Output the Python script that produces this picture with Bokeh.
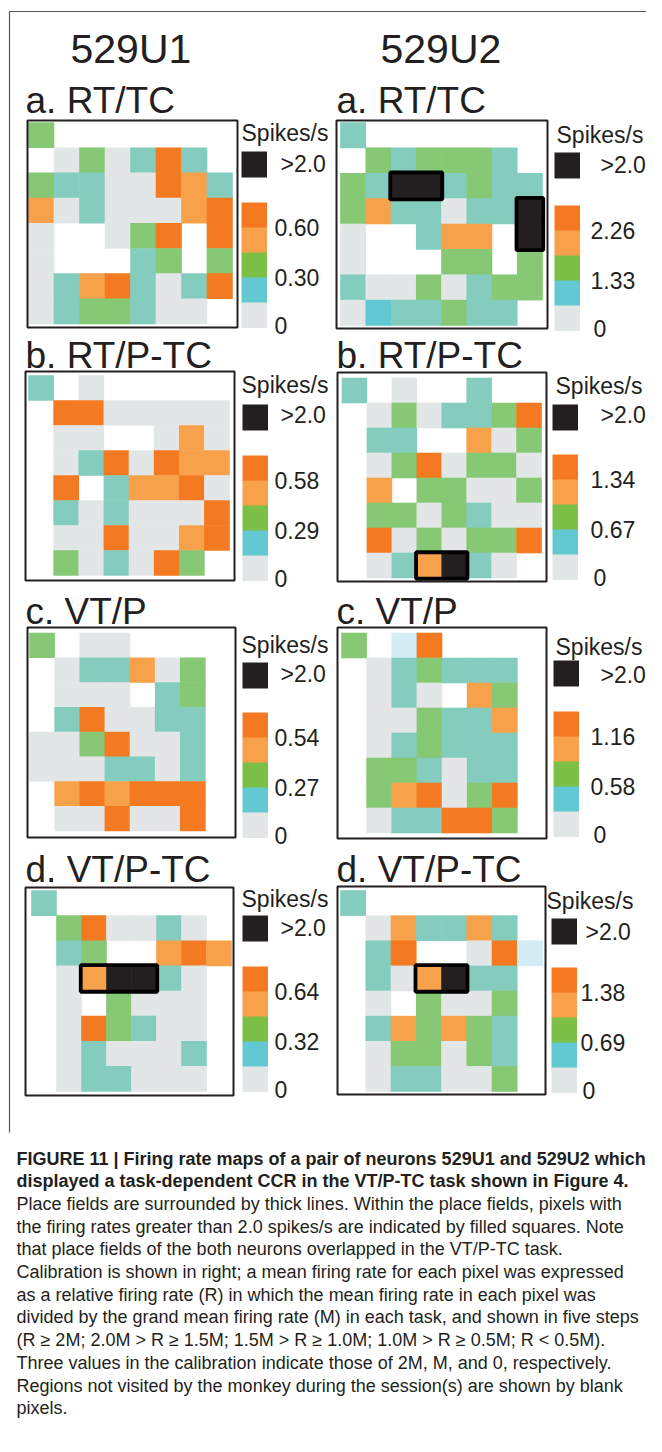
from bokeh.plotting import figure
from bokeh.models import Range1d, ColumnDataSource
from bokeh.core.properties import value
from bokeh.embed import file_html
from bokeh.resources import INLINE

# ------------------------------------------------------------------ data
neurons = ["529U1", "529U2"]
tasks = ["a. RT/TC", "b. RT/P-TC", "c. VT/P", "d. VT/P-TC"]

# pixel codes: W blank, G <0.5M, C 0.5-1.0M (light), T teal, N green, O light orange,
# R dark orange, K >2.0 spikes/s, L pale blue
u1_rt_tc = ["NWWWWWWW", "WGNGTRTW", "NTTGGROT", "OGTGGGOR",
            "GWWGNRWR", "GWWWTNWN", "GTORTGTR", "GTNNTGGW"]
u2_rt_tc = ["TWWWWWWW", "WNTNNNTW", "NTKKTNTT", "NOTTGTTK",
            "GWWTOOWK", "GWWWNNWN", "TGGNGTNN", "GCTTNTTW"]
u1_rt_ptc = ["TWGWWWWW", "WRRGGGGG", "WGGWWGOG", "WGTRGROO",
             "WRWTOORG", "WTGTGGGR", "WGGRGGOR", "WNGTGRNW"]
u2_rt_ptc = ["TWGWWTWW", "WGNGTTNR", "WTTWWOGN", "WGNRGNNG",
             "WOWNNGGN", "WNNGNTGG", "WRGNGNNR", "WGTOKTGW"]
u1_vt_p = ["NWGGWWWW", "WGTTOGNW", "WGGGWTNW", "WTRGGTTW",
           "GGNRGGTW", "GGGTTGTW", "WORORRRW", "WGGRGGRW"]
u2_vt_p = ["NWLRWWWW", "WGTNTTTW", "WGTGWONW", "WGGNTTOW",
           "WGTNTTTW", "WNNTGTTW", "WNORGNRW", "WGTTRRNW"]
u1_vt_ptc = ["TWWWWWWW", "WNRGGTGW", "WTNWWORO", "WGOKKTGW",
             "WGWNGGGW", "WGRNTGGW", "WGTGGGTW", "WGTTGGGW"]
u2_vt_ptc = ["TWWWWWWW", "WGOTTOTW", "WTRWWGRL", "WTGOKTTW",
             "WGWNGGNW", "WTONONTW", "WGNNGNTW", "WGTTGGNW"]

# place fields: (col_from, col_to, row_from, row_to)
pf_u2_rt_tc = [(2, 3, 2, 2), (7, 7, 3, 4)]
pf_u2_rt_ptc = [(3, 4, 7, 7)]
pf_u1_vt_ptc = [(2, 4, 3, 3)]
pf_u2_vt_ptc = [(3, 4, 3, 3)]

# calibration labels (2M, M, 0)
u1_ticks = [["0.60", "0.30", "0"], ["0.58", "0.29", "0"], ["0.54", "0.27", "0"], ["0.64", "0.32", "0"]]
u2_ticks = [["2.26", "1.33", "0"], ["1.34", "0.67", "0"], ["1.16", "0.58", "0"], ["1.38", "0.69", "0"]]
legend_title = "Spikes/s"
legend_top = ">2.0"

caption_bold = [
    "FIGURE 11 | Firing rate maps of a pair of neurons 529U1 and 529U2 which",
    "displayed a task-dependent CCR in the VT/P-TC task shown in Figure 4.",
]
caption_plain = [
    "Place fields are surrounded by thick lines. Within the place fields, pixels with",
    "the firing rates greater than 2.0 spikes/s are indicated by filled squares. Note",
    "that place fields of the both neurons overlapped in the VT/P-TC task.",
    "Calibration is shown in right; a mean firing rate for each pixel was expressed",
    "as a relative firing rate (R) in which the mean firing rate in each pixel was",
    "divided by the grand mean firing rate (M) in each task, and shown in five steps",
    "(R \u2265 2M; 2.0M > R \u2265 1.5M; 1.5M > R \u2265 1.0M; 1.0M > R \u2265 0.5M; R < 0.5M).",
    "Three values in the calibration indicate those of 2M, M, and 0, respectively.",
    "Regions not visited by the monkey during the session(s) are shown by blank",
    "pixels.",
]

# ------------------------------------------------------------------ styles
cell_colors = {"G": "#E3E6E7", "C": "#62C8D3", "T": "#84CDBE", "N": "#86C874",
               "O": "#F7A14A", "R": "#F47A22", "K": "#231F20", "L": "#D3ECF6"}
legend_colors = ["#F47920", "#F8A04A", "#7CBF47", "#62C8D2", "#E3E6E6"]
INK = "#231F20"
FONT = value("Liberation Sans")

grids = [u1_rt_tc, u2_rt_tc, u1_rt_ptc, u2_rt_ptc, u1_vt_p, u2_vt_p, u1_vt_ptc, u2_vt_ptc]
fields = [[], pf_u2_rt_tc, [], pf_u2_rt_ptc, [], [], pf_u1_vt_ptc, pf_u2_vt_ptc]
ticks = [u1_ticks[0], u2_ticks[0], u1_ticks[1], u2_ticks[1],
         u1_ticks[2], u2_ticks[2], u1_ticks[3], u2_ticks[3]]

# layout in page pixels: box, grid, legend anchors
layout = [
    dict(box=(27, 120, 237, 327), grid=(28, 122, 232, 323.5), sx=241, ktop=151, stop=202,
         spx=241, spy=132, gtx=280, gty=163, numx=274, zx=274),
    dict(box=(336, 120, 547, 328), grid=(340, 122, 542, 325), sx=554, ktop=152, stop=205,
         spx=556, spy=134, gtx=600, gty=164, numx=590, zx=593),
    dict(box=(25, 371, 234, 580), grid=(28, 375, 229, 575), sx=242, ktop=404, stop=455,
         spx=241, spy=384, gtx=280, gty=414, numx=274, zx=274),
    dict(box=(337, 372, 546, 581), grid=(341.5, 377.5, 541, 577.5), sx=552, ktop=404, stop=454,
         spx=555, spy=385, gtx=600, gty=414, numx=590, zx=593),
    dict(box=(27, 627, 235, 837), grid=(29, 632.5, 230, 830.5), sx=242, ktop=662, stop=712,
         spx=241, spy=644, gtx=280, gty=673, numx=274, zx=274),
    dict(box=(337, 627, 546, 838), grid=(341, 632.5, 542, 832.5), sx=553, ktop=660, stop=711,
         spx=555, spy=646, gtx=600, gty=674, numx=590, zx=593),
    dict(box=(25, 887, 233, 1095), grid=(31, 890, 231, 1091), sx=242, ktop=915, stop=966,
         spx=241, spy=898, gtx=280, gty=927, numx=274, zx=274),
    dict(box=(337, 886, 545, 1094), grid=(340, 890, 542, 1091), sx=551, ktop=918, stop=967,
         spx=546, spy=900, gtx=585, gty=931, numx=580, zx=582),
]
title_x = [25, 336]
title_mid = [99.5, 354.5, 610.5, 868.5]
neuron_x = [70, 380]

# ------------------------------------------------------------------ figure
W, H = 646, 1436
p = figure(width=W, height=H, x_range=Range1d(0, W), y_range=Range1d(H, 0),
           output_backend="svg", toolbar_location=None, min_border=0,
           outline_line_color=None, background_fill_color="white", border_fill_color="white")
p.axis.visible = False
p.grid.visible = False

# outer frame (top and left edges)
p.line(x=[9, 9, 662], y=[1132, 11, 11], line_color="#555555", line_width=1.2)

cx, cy, cw, ch, cc = [], [], [], [], []
fx, fy, fw, fh = [], [], [], []
bx, by, bw, bh = [], [], [], []
lq = dict(l=[], r=[], t=[], b=[], c=[])
tx, ty, tt = [], [], []
for k, (g, lay) in enumerate(zip(grids, layout)):
    gx0, gy0, gx1, gy1 = lay["grid"]
    w = (gx1 - gx0) / 8.0
    h = (gy1 - gy0) / 8.0
    for r, row in enumerate(g):
        for c, code in enumerate(row):
            if code == "W":
                continue
            cx.append(gx0 + (c + 0.5) * w)
            cy.append(gy0 + (r + 0.5) * h)
            cw.append(w + 0.6)
            ch.append(h + 0.6)
            cc.append(cell_colors[code])
    for (c0, c1, r0, r1) in fields[k]:
        fx.append(gx0 + (c0 + c1 + 1) / 2.0 * w)
        fy.append(gy0 + (r0 + r1 + 1) / 2.0 * h)
        fw.append((c1 - c0 + 1) * w + 1.5)
        fh.append((r1 - r0 + 1) * h + 1.5)
    x0, y0, x1, y1 = lay["box"]
    bx.append((x0 + x1) / 2); by.append((y0 + y1) / 2); bw.append(x1 - x0); bh.append(y1 - y0)
    # legend
    sx = lay["sx"]
    lq["l"].append(sx); lq["r"].append(sx + 25.5)
    lq["t"].append(lay["ktop"]); lq["b"].append(lay["ktop"] + 26); lq["c"].append(INK)
    for i, col in enumerate(legend_colors):
        lq["l"].append(sx); lq["r"].append(sx + 25.5)
        lq["t"].append(lay["stop"] + i * 25); lq["b"].append(lay["stop"] + (i + 1) * 25 + 0.5)
        lq["c"].append(col)
    tx += [lay["spx"], lay["gtx"], lay["numx"], lay["numx"], lay["zx"]]
    ty += [lay["spy"], lay["gty"], lay["stop"] + 25, lay["stop"] + 75, lay["stop"] + 123]
    tt += [legend_title, legend_top] + ticks[k]

p.rect(x="x", y="y", width="w", height="h", source=ColumnDataSource(dict(x=cx, y=cy, w=cw, h=ch, c=cc)),
       fill_color="c", line_color=None)
p.quad(left="l", right="r", top="t", bottom="b", source=ColumnDataSource(lq),
       fill_color="c", line_color=None)
p.rect(x=fx, y=fy, width=fw, height=fh, fill_color=None, line_color="#000000", line_width=3.8)
p.rect(x=bx, y=by, width=bw, height=bh, fill_color=None, line_color=INK, line_width=2)

p.text(x=tx, y=ty, text=tt, text_font=FONT, text_font_size="23px", text_color=INK,
       text_baseline="middle", text_align="left")

# titles
p.text(x=neuron_x, y=[48, 48], text=neurons, text_font=FONT, text_font_size="41px",
       text_color=INK, text_baseline="middle")
ttx, tty, ttt = [], [], []
for i, t in enumerate(tasks):
    for j in range(2):
        ttx.append(title_x[j]); tty.append(title_mid[i]); ttt.append(t)
p.text(x=ttx, y=tty, text=ttt, text_font=FONT, text_font_size="37px", text_color=INK,
       text_baseline="middle")

# caption
lh = 22.7
p.text(x=[16] * len(caption_bold), y=[1158 + lh * i for i in range(len(caption_bold))],
       text=caption_bold, text_font=FONT, text_font_size="18px", text_font_style="bold",
       text_color=INK, text_baseline="middle")
n0 = len(caption_bold)
p.text(x=[16] * len(caption_plain), y=[1158 + lh * (n0 + i) for i in range(len(caption_plain))],
       text=caption_plain, text_font=FONT, text_font_size="18px",
       text_color=INK, text_baseline="middle")

open("out.html", "w").write(file_html(p, INLINE))
